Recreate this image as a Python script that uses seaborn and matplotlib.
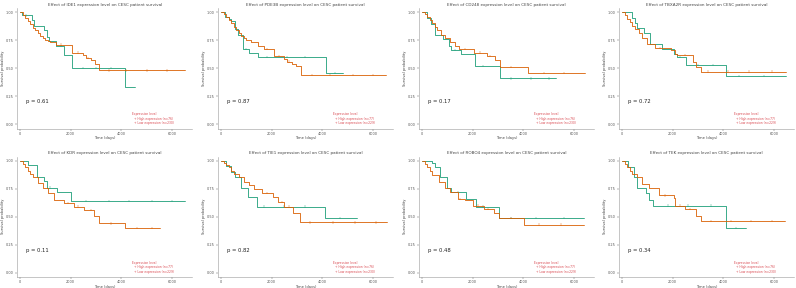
import numpy as np
import pandas as pd
import seaborn as sns
import matplotlib.pyplot as plt

# gene per panel (row-major) and log-rank p values
genes = ["IDE1", "PDE3B", "CD248", "TBXA2R", "KDR", "TIE1", "ROBO4", "TEK"]
pvals = ["0.61", "0.87", "0.17", "0.72", "0.11", "0.82", "0.48", "0.34"]
n_high = [76, 77, 76, 77, 77, 76, 77, 76]
n_low = [230, 229, 230, 229, 229, 230, 229, 230]

# Kaplan-Meier steps: time (days) and survival after each step
high_t = [
    [0, 80, 470, 540, 930, 1070, 1130, 1400, 1730, 2070, 4160, 4530],
    [0, 150, 300, 400, 550, 650, 850, 1100, 1440, 4140, 4800],
    [0, 200, 360, 500, 810, 1060, 1130, 1520, 2080, 3070, 5300],
    [0, 390, 500, 600, 850, 1100, 1570, 2050, 2150, 2510, 4120, 6470],
    [0, 330, 670, 930, 1070, 1470, 2030, 6530],
    [0, 200, 400, 550, 800, 1080, 1400, 4100, 5350],
    [0, 400, 500, 710, 970, 1160, 1740, 2130, 3030, 6390],
    [0, 220, 480, 610, 930, 1060, 1220, 4120, 4900],
]
high_s = [
    [1, .97, .93, .88, .84, .78, .74, .70, .62, .50, .335, .335],
    [1, .96, .94, .92, .85, .80, .67, .64, .60, .46, .46],
    [1, .95, .89, .80, .76, .70, .66, .63, .52, .41, .41],
    [1, .95, .90, .86, .81, .72, .67, .63, .60, .53, .43, .43],
    [1, .96, .85, .82, .76, .72, .64, .64],
    [1, .95, .90, .85, .76, .68, .59, .49, .49],
    [1, .98, .94, .85, .76, .72, .66, .59, .49, .49],
    [1, .94, .85, .76, .71, .65, .60, .40, .40],
]
low_t = [
    [0, 100, 200, 300, 400, 500, 600, 700, 800, 900, 1000, 1100, 1200, 1400, 2070, 2500, 2600, 2800, 2950, 3130, 6530],
    [0, 100, 200, 300, 400, 500, 600, 700, 800, 900, 1000, 1200, 1450, 1700, 2100, 2480, 2600, 2800, 2940, 3140, 6530],
    [0, 100, 200, 300, 400, 500, 600, 750, 900, 1100, 1300, 1460, 2040, 2550, 2880, 3070, 4170, 6430],
    [0, 100, 200, 300, 400, 500, 650, 800, 1000, 1300, 1950, 2100, 2150, 2810, 2900, 3110, 6470],
    [0, 100, 200, 300, 400, 530, 700, 900, 1100, 1330, 1730, 2130, 2530, 2930, 3130, 4130, 5530],
    [0, 100, 200, 300, 400, 500, 700, 900, 1100, 1300, 1600, 2050, 2250, 2500, 2850, 3110, 6540],
    [0, 100, 200, 300, 400, 650, 900, 1100, 1420, 1680, 2000, 2450, 2840, 3030, 4040, 6390],
    [0, 100, 200, 300, 400, 600, 800, 1050, 1450, 2040, 2100, 2500, 2900, 3120, 6450],
]
low_s = [
    [1, .97, .95, .92, .89, .86, .84, .81, .79, .77, .75, .74, .73, .71, .64, .62, .59, .57, .54, .48, .48],
    [1, .98, .96, .93, .90, .87, .84, .81, .79, .77, .75, .73, .70, .67, .61, .58, .56, .54, .52, .44, .44],
    [1, .98, .96, .93, .90, .87, .84, .80, .77, .73, .70, .67, .64, .61, .57, .51, .46, .46],
    [1, .97, .94, .91, .88, .85, .81, .77, .72, .68, .66, .63, .62, .56, .51, .47, .47],
    [1, .97, .94, .91, .88, .85, .80, .76, .71, .65, .62, .59, .56, .51, .44, .40, .40],
    [1, .98, .96, .94, .91, .88, .85, .81, .78, .75, .71, .68, .63, .59, .53, .45, .45],
    [1, .97, .94, .91, .87, .81, .76, .72, .66, .65, .60, .57, .53, .49, .43, .43],
    [1, .97, .94, .91, .88, .85, .79, .76, .69, .67, .60, .57, .51, .46, .46],
]
# censoring times
high_c = [
    [250, 1600, 2500, 3000, 3600],
    [1000, 1800, 2600, 3300, 4500],
    [1300, 2400, 3500, 4300, 5000],
    [2300, 3000, 3600, 4600, 5600],
    [1200, 2600, 3500, 4300, 5200, 6000],
    [1700, 2500, 3300, 4700],
    [1400, 2400, 3500, 4500, 5600],
    [1800, 2600, 3500, 4500],
]
low_c = [
    [1600, 2300, 2700, 3500, 4200, 5000, 5800],
    [1800, 2300, 2700, 3600, 4300, 5200, 6000],
    [1700, 2300, 2700, 3500, 4800, 5600],
    [1500, 2500, 3400, 4200, 5000, 5900],
    [1900, 2300, 2800, 3600, 4600, 5200],
    [1800, 2400, 2700, 3500, 4400, 5300, 6100],
    [1500, 2200, 2600, 3500, 4600, 5500],
    [1700, 2300, 2700, 3500, 4300, 5100, 5900],
]

pal = {"High": "#1B9E77", "Low": "#D95F02"}


def surv_at(ts, ss, c):
    idx = np.searchsorted(ts, c, side="right") - 1
    return np.asarray(ss)[idx]


sns.set_theme(style="ticks")
fig = plt.figure(figsize=(7.96, 2.88), dpi=100)

lefts = [17, 218, 419, 619]
tops = [8, 156.5]
W, H = 175.3, 120.5

for i in range(8):
    r, c = divmod(i, 4)
    l, t = lefts[c], tops[r]
    ax = fig.add_axes([l / 796, 1 - (t + H) / 288, W / 796, H / 288])

    df = pd.concat([
        pd.DataFrame({"time": high_t[i], "surv": high_s[i], "group": "High"}),
        pd.DataFrame({"time": low_t[i], "surv": low_s[i], "group": "Low"}),
    ])
    sns.lineplot(data=df, x="time", y="surv", hue="group", palette=pal,
                 drawstyle="steps-post", estimator=None, sort=False,
                 linewidth=0.6, legend=False, ax=ax)

    cens = pd.concat([
        pd.DataFrame({"time": high_c[i], "surv": surv_at(high_t[i], high_s[i], high_c[i]), "group": "High"}),
        pd.DataFrame({"time": low_c[i], "surv": surv_at(low_t[i], low_s[i], low_c[i]), "group": "Low"}),
    ])
    sns.scatterplot(data=cens, x="time", y="surv", hue="group", palette=pal,
                    marker="|", s=3, linewidth=0.3, legend=False, ax=ax)

    ax.set_xlim(-120, 6800)
    ax.set_ylim(-0.036, 1.036)
    ax.set_xticks([0, 2000, 4000, 6000])
    ax.set_yticks([0, 0.25, 0.5, 0.75, 1.0])
    ax.set_yticklabels(["0.00", "0.25", "0.50", "0.75", "1.00"])
    ax.tick_params(labelsize=2.5, length=1.2, width=0.3, pad=1, colors="#555555")
    for s in ["left", "bottom"]:
        ax.spines[s].set_linewidth(0.4)
        ax.spines[s].set_color("#999999")
    sns.despine(ax=ax)
    ax.set_xlabel("Time (days)", fontsize=2.6, labelpad=0.5, color="#444444")
    ax.set_ylabel("Survival probability", fontsize=2.6, labelpad=1, color="#444444")
    ax.set_title(f"Effect of {genes[i]} expression level on CESC patient survival",
                 fontsize=3, pad=1.5, color="#444444")

    ax.text(250, 0.2, f"p = {pvals[i]}", fontsize=3.8, color="#222222", va="center")
    ax.text(4400, -0.005,
            f"Expression level\n  + High expression (n={n_high[i]})\n  + Low expression (n={n_low[i]})",
            fontsize=2.2, color="#D9474F", va="bottom", linespacing=1.1)

fig.savefig("out.png", dpi=100)
